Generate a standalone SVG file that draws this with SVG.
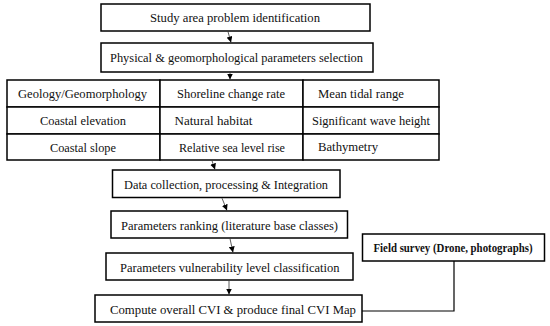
<svg xmlns="http://www.w3.org/2000/svg" width="550" height="326" viewBox="0 0 550 326">
<style>
.box{fill:#fff;stroke:#000;stroke-width:1.5}
.t{font-family:"Liberation Serif","Times New Roman",serif;font-size:13.5px;fill:#111}
.b{font-weight:bold;font-size:12px}
.con{fill:none;stroke:#333;stroke-width:0.8}
.fl{fill:none;stroke:#000;stroke-width:1.2}
</style>
<defs>
<marker id="ah" viewBox="0 0 6 6" refX="6" refY="3" markerWidth="6" markerHeight="6" markerUnits="userSpaceOnUse" orient="auto">
<path d="M0,0 L6,3 L0,6 z" fill="#000"/>
</marker>
</defs>
<rect width="550" height="326" fill="#fff"/>
<g id="n1"><rect class="box" x="101" y="4" width="269" height="27"/><text class="t" x="150" y="22" textLength="170" lengthAdjust="spacingAndGlyphs">Study area problem identification</text></g>
<g id="n2"><rect class="box" x="101" y="43" width="272" height="29"/><text class="t" x="110" y="62" textLength="253" lengthAdjust="spacingAndGlyphs">Physical &amp; geomorphological parameters selection</text></g>
<g id="g11"><rect class="box" x="7" y="80" width="153" height="27"/><text class="t" x="18" y="98" textLength="129" lengthAdjust="spacingAndGlyphs">Geology/Geomorphology</text></g>
<g id="g12"><rect class="box" x="160" y="80" width="143" height="27"/><text class="t" x="177" y="98" textLength="108" lengthAdjust="spacingAndGlyphs">Shoreline change rate</text></g>
<g id="g13"><rect class="box" x="303" y="80" width="136" height="27"/><text class="t" x="318" y="98" textLength="86" lengthAdjust="spacingAndGlyphs">Mean tidal range</text></g>
<g id="g21"><rect class="box" x="7" y="107" width="153" height="27"/><text class="t" x="40" y="125" textLength="86" lengthAdjust="spacingAndGlyphs">Coastal elevation</text></g>
<g id="g22"><rect class="box" x="160" y="107" width="143" height="27"/><text class="t" x="174.5" y="125" textLength="78" lengthAdjust="spacingAndGlyphs">Natural habitat</text></g>
<g id="g23"><rect class="box" x="303" y="107" width="136" height="27"/><text class="t" x="312" y="125" textLength="118" lengthAdjust="spacingAndGlyphs">Significant wave height</text></g>
<g id="g31"><rect class="box" x="7" y="134" width="153" height="26"/><text class="t" x="50" y="152" textLength="66" lengthAdjust="spacingAndGlyphs">Coastal slope</text></g>
<g id="g32"><rect class="box" x="160" y="134" width="143" height="26"/><text class="t" x="179" y="152" textLength="106" lengthAdjust="spacingAndGlyphs">Relative sea level rise</text></g>
<g id="g33"><rect class="box" x="303" y="134" width="136" height="26"/><text class="t" x="318" y="151" textLength="60" lengthAdjust="spacingAndGlyphs">Bathymetry</text></g>
<g id="n3"><rect class="box" x="112.5" y="170" width="227.5" height="27.5"/><text class="t" x="124" y="189" textLength="204" lengthAdjust="spacingAndGlyphs">Data collection, processing &amp; Integration</text></g>
<g id="n4"><rect class="box" x="111" y="211" width="236.5" height="27"/><text class="t" x="121" y="230" textLength="217" lengthAdjust="spacingAndGlyphs">Parameters ranking (literature base classes)</text></g>
<g id="n5"><rect class="box" x="106" y="253" width="247" height="27"/><text class="t" x="120" y="271.5" textLength="219.5" lengthAdjust="spacingAndGlyphs">Parameters vulnerability level classification</text></g>
<g id="n6"><rect class="box" x="95" y="295" width="267" height="27"/><text class="t" x="110" y="314" textLength="246" lengthAdjust="spacingAndGlyphs">Compute overall CVI &amp; produce final CVI Map</text></g>
<g id="n7"><rect class="box" x="362.5" y="234" width="182" height="27"/><text class="t b" x="373.5" y="252" textLength="159" lengthAdjust="spacingAndGlyphs">Field survey (Drone, photographs)</text></g>
<g id="connectors">
<line class="con" x1="228" y1="31.7" x2="231" y2="42.5" marker-end="url(#ah)"/>
<line class="con" x1="230" y1="72.7" x2="230" y2="79.5" marker-end="url(#ah)"/>
<line class="con" x1="212" y1="160.7" x2="215" y2="169.5" marker-end="url(#ah)"/>
<line class="con" x1="222" y1="198.2" x2="227" y2="210.5" marker-end="url(#ah)"/>
<line class="con" x1="230" y1="238.7" x2="233" y2="252.5" marker-end="url(#ah)"/>
<line class="con" x1="229" y1="280.7" x2="229" y2="294.5" marker-end="url(#ah)"/>
<polyline class="fl" points="454,261 454,311 362,311"/>
</g>
</svg>
